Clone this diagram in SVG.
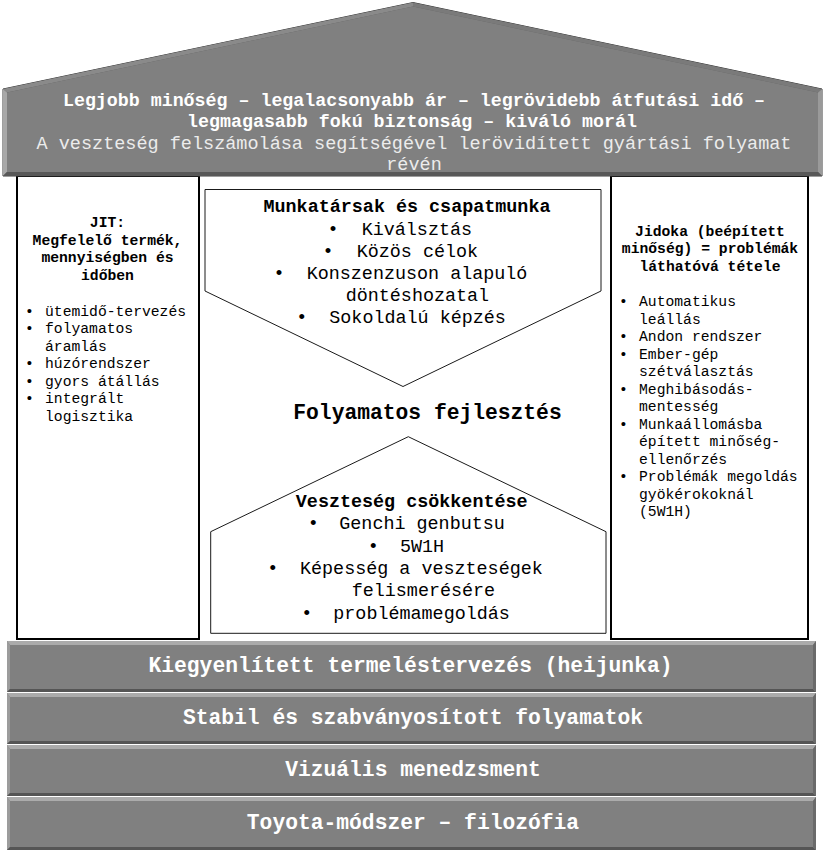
<svg xmlns="http://www.w3.org/2000/svg" width="826" height="852" viewBox="0 0 826 852">
<style>
text{font-family:"Liberation Mono","Courier New",monospace;}
.col{fill:#fff;stroke:#000;stroke-width:2;}
.pent{fill:#fff;stroke:#1a1a1a;stroke-width:1;}
.colh{font-size:14.7px;font-weight:bold;fill:#000;text-anchor:middle;}
.coli{font-size:14.7px;fill:#000;}
.ct{font-size:18.4px;font-weight:bold;fill:#000;text-anchor:middle;}
.ci{font-size:18.4px;fill:#000;}
.big{font-size:21.3px;font-weight:bold;fill:#000;text-anchor:middle;}
.rt{font-size:18.3px;font-weight:bold;fill:#fff;text-anchor:middle;}
.rs{font-size:18.5px;fill:#ececec;text-anchor:middle;}
.bt{font-size:21.3px;font-weight:bold;fill:#fff;text-anchor:middle;}
.bar{fill:#808080;}
.hl{fill:#ababab;}
.hl2{fill:#9c9c9c;}
.sh{fill:#555;}
.sh2{fill:#6a6a6a;}
</style>

<g id="left-column">
<rect class="col" x="17" y="176" width="182" height="463"/>
<text class="colh" x="107.5" y="227.3">JIT:</text>
<text class="colh" x="107.5" y="244.9">Megfelelő termék,</text>
<text class="colh" x="107.5" y="262.4">mennyiségben és</text>
<text class="colh" x="107.5" y="280">időben</text>
<g class="coli">
<text x="25" y="315.7">•</text><text x="45" y="315.7">ütemidő-tervezés</text>
<text x="25" y="333.2">•</text><text x="45" y="333.2">folyamatos</text>
<text x="45" y="350.7">áramlás</text>
<text x="25" y="368.2">•</text><text x="45" y="368.2">húzórendszer</text>
<text x="25" y="385.7">•</text><text x="45" y="385.7">gyors átállás</text>
<text x="25" y="403.2">•</text><text x="45" y="403.2">integrált</text>
<text x="45" y="420.7">logisztika</text>
</g>
</g>

<g id="right-column">
<rect class="col" x="611" y="176" width="197" height="463"/>
<text class="colh" x="710" y="236">Jidoka (beépített</text>
<text class="colh" x="710" y="253.4">minőség) = problémák</text>
<text class="colh" x="710" y="270.8">láthatóvá tétele</text>
<g class="coli">
<text x="619" y="306">•</text><text x="639" y="306">Automatikus</text>
<text x="639" y="323.5">leállás</text>
<text x="619" y="341">•</text><text x="639" y="341">Andon rendszer</text>
<text x="619" y="358.5">•</text><text x="639" y="358.5">Ember-gép</text>
<text x="639" y="376">szétválasztás</text>
<text x="619" y="393.5">•</text><text x="639" y="393.5">Meghibásodás-</text>
<text x="639" y="411">mentesség</text>
<text x="619" y="428.5">•</text><text x="639" y="428.5">Munkaállomásba</text>
<text x="639" y="446">épített minőség-</text>
<text x="639" y="463.5">ellenőrzés</text>
<text x="619" y="481">•</text><text x="639" y="481">Problémák megoldás</text>
<text x="639" y="498.5">gyökérokoknál</text>
<text x="639" y="516">(5W1H)</text>
</g>
</g>

<g id="teamwork">
<polygon class="pent" points="205,189.5 601,189.5 601,291 403,386.5 205,291"/>
<text class="ct" x="407" y="212">Munkatársak és csapatmunka</text>
<g class="ci">
<text x="327.5" y="234.5">•</text><text x="361.7" y="234.5">Kiválsztás</text>
<text x="322.5" y="256.5">•</text><text x="356.7" y="256.5">Közös célok</text>
<text x="273.5" y="278.5">•</text><text x="306.7" y="278.5">Konszenzuson alapuló</text>
<text x="345.7" y="300.5">döntéshozatal</text>
<text x="296.2" y="322.5">•</text><text x="329.3" y="322.5">Sokoldalú képzés</text>
</g>
</g>

<g id="kaizen">
<text class="big" x="427.5" y="418.5">Folyamatos fejlesztés</text>
</g>

<g id="waste-reduction">
<polygon class="pent" points="408.3,436.7 606,531.7 606,633.3 210.7,633.3 210.7,531.7"/>
<text class="ct" x="411.7" y="507">Veszteség csökkentése</text>
<g class="ci">
<text x="307.8" y="529.3">•</text><text x="339.3" y="529.3">Genchi genbutsu</text>
<text x="367.8" y="551.6">•</text><text x="400" y="551.6">5W1H</text>
<text x="267.2" y="573.9">•</text><text x="300" y="573.9">Képesség a veszteségek</text>
<text x="351.7" y="596.2">felismerésére</text>
<text x="301.2" y="618.5">•</text><text x="333.3" y="618.5">problémamegoldás</text>
</g>
</g>

<g id="roof">
<polygon points="3,89 413,2.5 822,89 822,176 3,176" fill="#5e5e5e" stroke="#3c3c3c" stroke-width="1"/>
<polygon points="3,89 413,2.5 413,6.5 7,92.5" fill="#8a8a8a"/>
<polygon points="822,89 413,2.5 413,6.5 818,92.5" fill="#7a7a7a"/>
<polygon points="3,89 7,92.5 7,172 3,176" fill="#a8a8a8"/>
<polygon points="822,89 818,92.5 818,172 822,176" fill="#9a9a9a"/>
<polygon points="3,176 822,176 818,172 7,172" fill="#585858"/>
<polygon points="7,92.5 413,6.5 818,92.5 818,172 7,172" fill="#808080"/>
<text class="rt" x="414" y="106">Legjobb minőség – legalacsonyabb ár – legrövidebb átfutási idő –</text>
<text class="rt" x="412" y="127.3">legmagasabb fokú biztonság – kiváló morál</text>
<text class="rs" x="414" y="149.3">A veszteség felszámolása segítségével lerövidített gyártási folyamat</text>
<text class="rs" x="414" y="170">révén</text>
</g>

<g id="heijunka">
<rect class="bar" x="7" y="641" width="809" height="51"/>
<polygon class="hl" points="7,641 816,641 813,645 10,645"/>
<polygon class="hl2" points="7,641 10,645 10,689 7,692"/>
<polygon class="sh" points="7,692 816,692 813,689 10,689"/>
<polygon class="sh2" points="816,641 816,692 813,689 813,645"/>
<text class="bt" x="410.5" y="672">Kiegyenlített termeléstervezés (heijunka)</text>
</g>

<g id="standard-processes">
<rect class="bar" x="7" y="693" width="809" height="51"/>
<polygon class="hl" points="7,693 816,693 813,697 10,697"/>
<polygon class="hl2" points="7,693 10,697 10,741 7,744"/>
<polygon class="sh" points="7,744 816,744 813,741 10,741"/>
<polygon class="sh2" points="816,693 816,744 813,741 813,697"/>
<text class="bt" x="413" y="724.3">Stabil és szabványosított folyamatok</text>
</g>

<g id="visual-management">
<rect class="bar" x="7" y="745" width="809" height="51"/>
<polygon class="hl" points="7,745 816,745 813,749 10,749"/>
<polygon class="hl2" points="7,745 10,749 10,793 7,796"/>
<polygon class="sh" points="7,796 816,796 813,793 10,793"/>
<polygon class="sh2" points="816,745 816,796 813,793 813,749"/>
<text class="bt" x="413" y="776">Vizuális menedzsment</text>
</g>

<g id="philosophy">
<rect class="bar" x="7" y="797" width="809" height="53"/>
<polygon class="hl" points="7,797 816,797 813,801 10,801"/>
<polygon class="hl2" points="7,797 10,801 10,847 7,850"/>
<polygon class="sh" points="7,850 816,850 813,847 10,847"/>
<polygon class="sh2" points="816,797 816,850 813,847 813,801"/>
<text class="bt" x="413" y="829">Toyota-módszer – filozófia</text>
</g>
</svg>
